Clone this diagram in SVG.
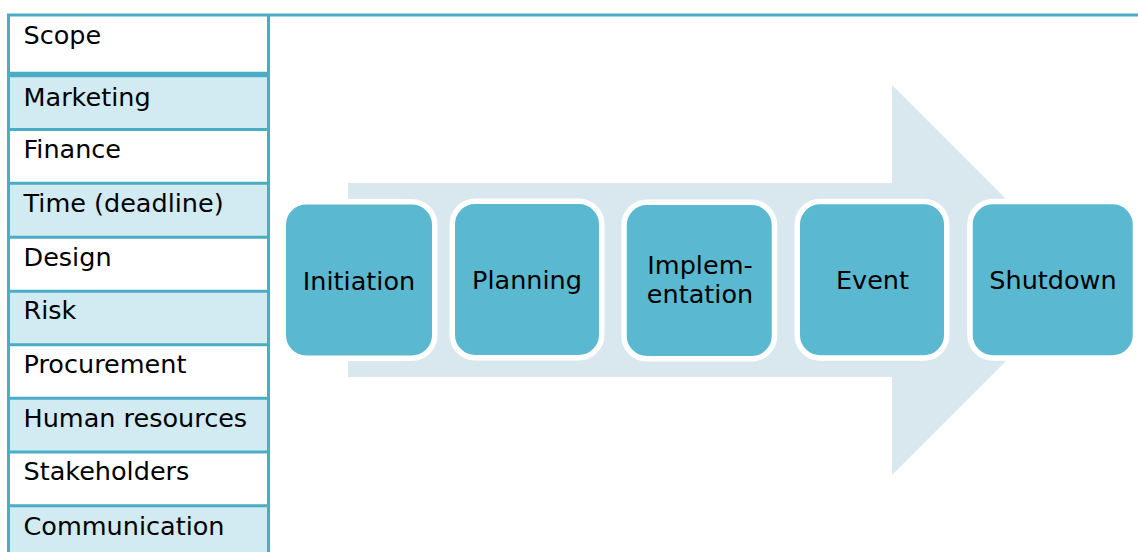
<svg xmlns="http://www.w3.org/2000/svg" width="1138" height="552" viewBox="0 0 1138 552">
<style>
.t{font-family:"DejaVu Sans","Liberation Sans",sans-serif;font-size:25.5px;fill:#000}
.c{text-anchor:middle}
.w{fill:#ffffff}
.b{fill:#D2EAF1}
.ln{stroke:#4BACC6;stroke-width:3;fill:none}
.box{fill:#5BB8D1;stroke:#ffffff;stroke-width:5.5}
</style>
<rect width="1138" height="552" fill="#ffffff"/>
<g id="arrow">
<path d="M348,183 L892,183 L892,85 L1087,280 L892,475 L892,377 L348,377 Z" fill="#D9E8EF"/>
</g>
<g id="table">
<rect class="w" x="8.5" y="15" width="260" height="59.5"/>
<rect class="b" x="8.5" y="74.5" width="260" height="55"/>
<rect class="w" x="8.5" y="129.5" width="260" height="53.8"/>
<rect class="b" x="8.5" y="183.3" width="260" height="54"/>
<rect class="w" x="8.5" y="237.3" width="260" height="54"/>
<rect class="b" x="8.5" y="291.3" width="260" height="53.4"/>
<rect class="w" x="8.5" y="344.7" width="260" height="53.5"/>
<rect class="b" x="8.5" y="398.2" width="260" height="53.8"/>
<rect class="w" x="8.5" y="452" width="260" height="53.8"/>
<rect class="b" x="8.5" y="505.8" width="260" height="46.2"/>
<path class="ln" d="M8.5,552 V15 H1138 M268.5,15 V552 M8.5,129.5 H268.5 M8.5,183.3 H268.5 M8.5,237.3 H268.5 M8.5,291.3 H268.5 M8.5,344.7 H268.5 M8.5,398.2 H268.5 M8.5,452 H268.5 M8.5,505.8 H268.5"/>
<path d="M8.5,74.5 H268.5" stroke="#4BACC6" stroke-width="5.5"/>
<text class="t" x="23.5" y="44">Scope</text>
<text class="t" x="23.5" y="106">Marketing</text>
<text class="t" x="23.5" y="158">Finance</text>
<text class="t" x="23.5" y="212">Time (deadline)</text>
<text class="t" x="23.5" y="266">Design</text>
<text class="t" x="23.5" y="318.5">Risk</text>
<text class="t" x="23.5" y="373">Procurement</text>
<text class="t" x="23.5" y="426.5">Human resources</text>
<text class="t" x="23.5" y="480">Stakeholders</text>
<text class="t" x="23.5" y="534.5">Communication</text>
</g>
<g id="initiation">
<rect class="box" x="283.25" y="201.75" width="151.5" height="156.5" rx="23"/>
<text class="t c" x="359" y="289.5">Initiation</text>
</g>
<g id="planning">
<rect class="box" x="452.25" y="201.25" width="149.5" height="156.5" rx="23"/>
<text class="t c" x="527" y="289">Planning</text>
</g>
<g id="implementation">
<rect class="box" x="624" y="202.25" width="150.5" height="156.5" rx="23"/>
<text class="t c" x="700" y="273.5">Implem-</text>
<text class="t c" x="700" y="302.5">entation</text>
</g>
<g id="event">
<rect class="box" x="797.25" y="201.5" width="149.5" height="156.5" rx="23"/>
<text class="t c" x="872.5" y="288.5">Event</text>
</g>
<g id="shutdown">
<rect class="box" x="970" y="201.5" width="165.5" height="156.5" rx="23"/>
<text class="t c" x="1053" y="288.5">Shutdown</text>
</g>
<g id="connectors"></g>
</svg>
